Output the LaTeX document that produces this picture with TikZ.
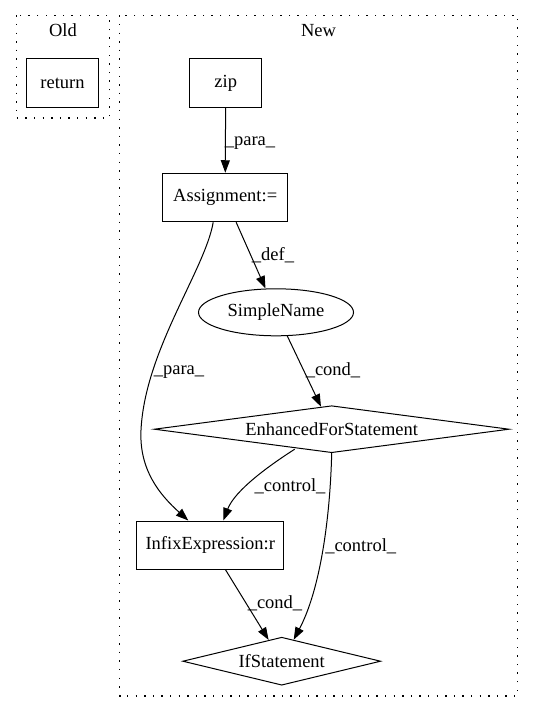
\documentclass[tikz,border=0pt]{standalone}
\usepackage{fontspec}
\setmainfont{Liberation Serif}
\usetikzlibrary{shapes.geometric,arrows.meta,calc}
\begin{document}
\begin{tikzpicture}[x=1pt,y=-1pt,
  font=\fontsize{18.5}{22}\selectfont,
  box/.style={draw, line width=1pt, rectangle, inner sep=0pt, minimum height=48.5pt},
  ell/.style={draw, line width=1pt, ellipse, inner sep=0pt, minimum width=155pt, minimum height=47pt},
  dia/.style={draw, line width=1pt, diamond, aspect=8, inner sep=0pt},
  edge/.style={line width=1pt, -{Triangle[length=12.5pt,width=9pt]}},
  lab/.style={inner sep=0pt},
  cluster/.style={draw, line width=1.3pt, dash pattern=on 1.4pt off 7.2pt}]
\useasboundingbox (0,0) rectangle (533,712);
% clusters
\draw[cluster] (16.3,15.3) rectangle (109.5,118);
\draw[cluster] (119.7,15.3) rectangle (517.5,696);
\node[lab] (oldlab) at (63,30.6) {Old};
\node[lab] (newlab) at (318.6,30.6) {New};
% nodes
\node[box, minimum width=72pt] (ret) at (62.5,83) {return};
\node[box, minimum width=72.5pt] (zip) at (225.7,83) {zip};
\node[box, minimum width=125pt] (asg) at (225.2,197.5) {Assignment:=};
\node[ell] (sn) at (276,312.3) {SimpleName};
\node[dia, minimum width=355pt, minimum height=47pt] (efs) at (331.7,429.2) {EnhancedForStatement};
\node[box, minimum width=147pt, minimum height=48pt] (inf) at (210.3,545) {InfixExpression:r};
\node[dia, minimum width=198pt, minimum height=48pt] (ifs) at (281.7,661.2) {IfStatement};
% edges
\draw[edge] (zip) -- (asg);
\draw[edge] (asg) -- (sn);
\draw[edge] ($(asg.south)+(-12,0)$) .. controls (205,270) and (145,350) .. (141,430)
  .. controls (139,470) and (160,495) .. ($(inf.north)+(-22,0)$);
\draw[edge] (sn) -- (efs);
\draw[edge] ($(efs.south)+(-37,-4)$) .. controls (270,465) and (235,490) .. ($(inf.north)+(13,0)$);
\draw[edge] (efs.south) .. controls (330,520) and (320,590) .. ($(ifs.north)+(12,3)$);
\draw[edge] (inf) -- (ifs);
% edge labels
\node[lab] (l1) at (250,142.7) {\_para\_};
\node[lab] (l2) at (273,255) {\_def\_};
\node[lab] (l3) at (179,371.7) {\_para\_};
\node[lab] (l4) at (333,370.7) {\_cond\_};
\node[lab] (l5) at (290,486.7) {\_control\_};
\node[lab] (l6) at (360.7,546) {\_control\_};
\node[lab] (l7) at (275,603) {\_cond\_};
\end{tikzpicture}
\end{document}
